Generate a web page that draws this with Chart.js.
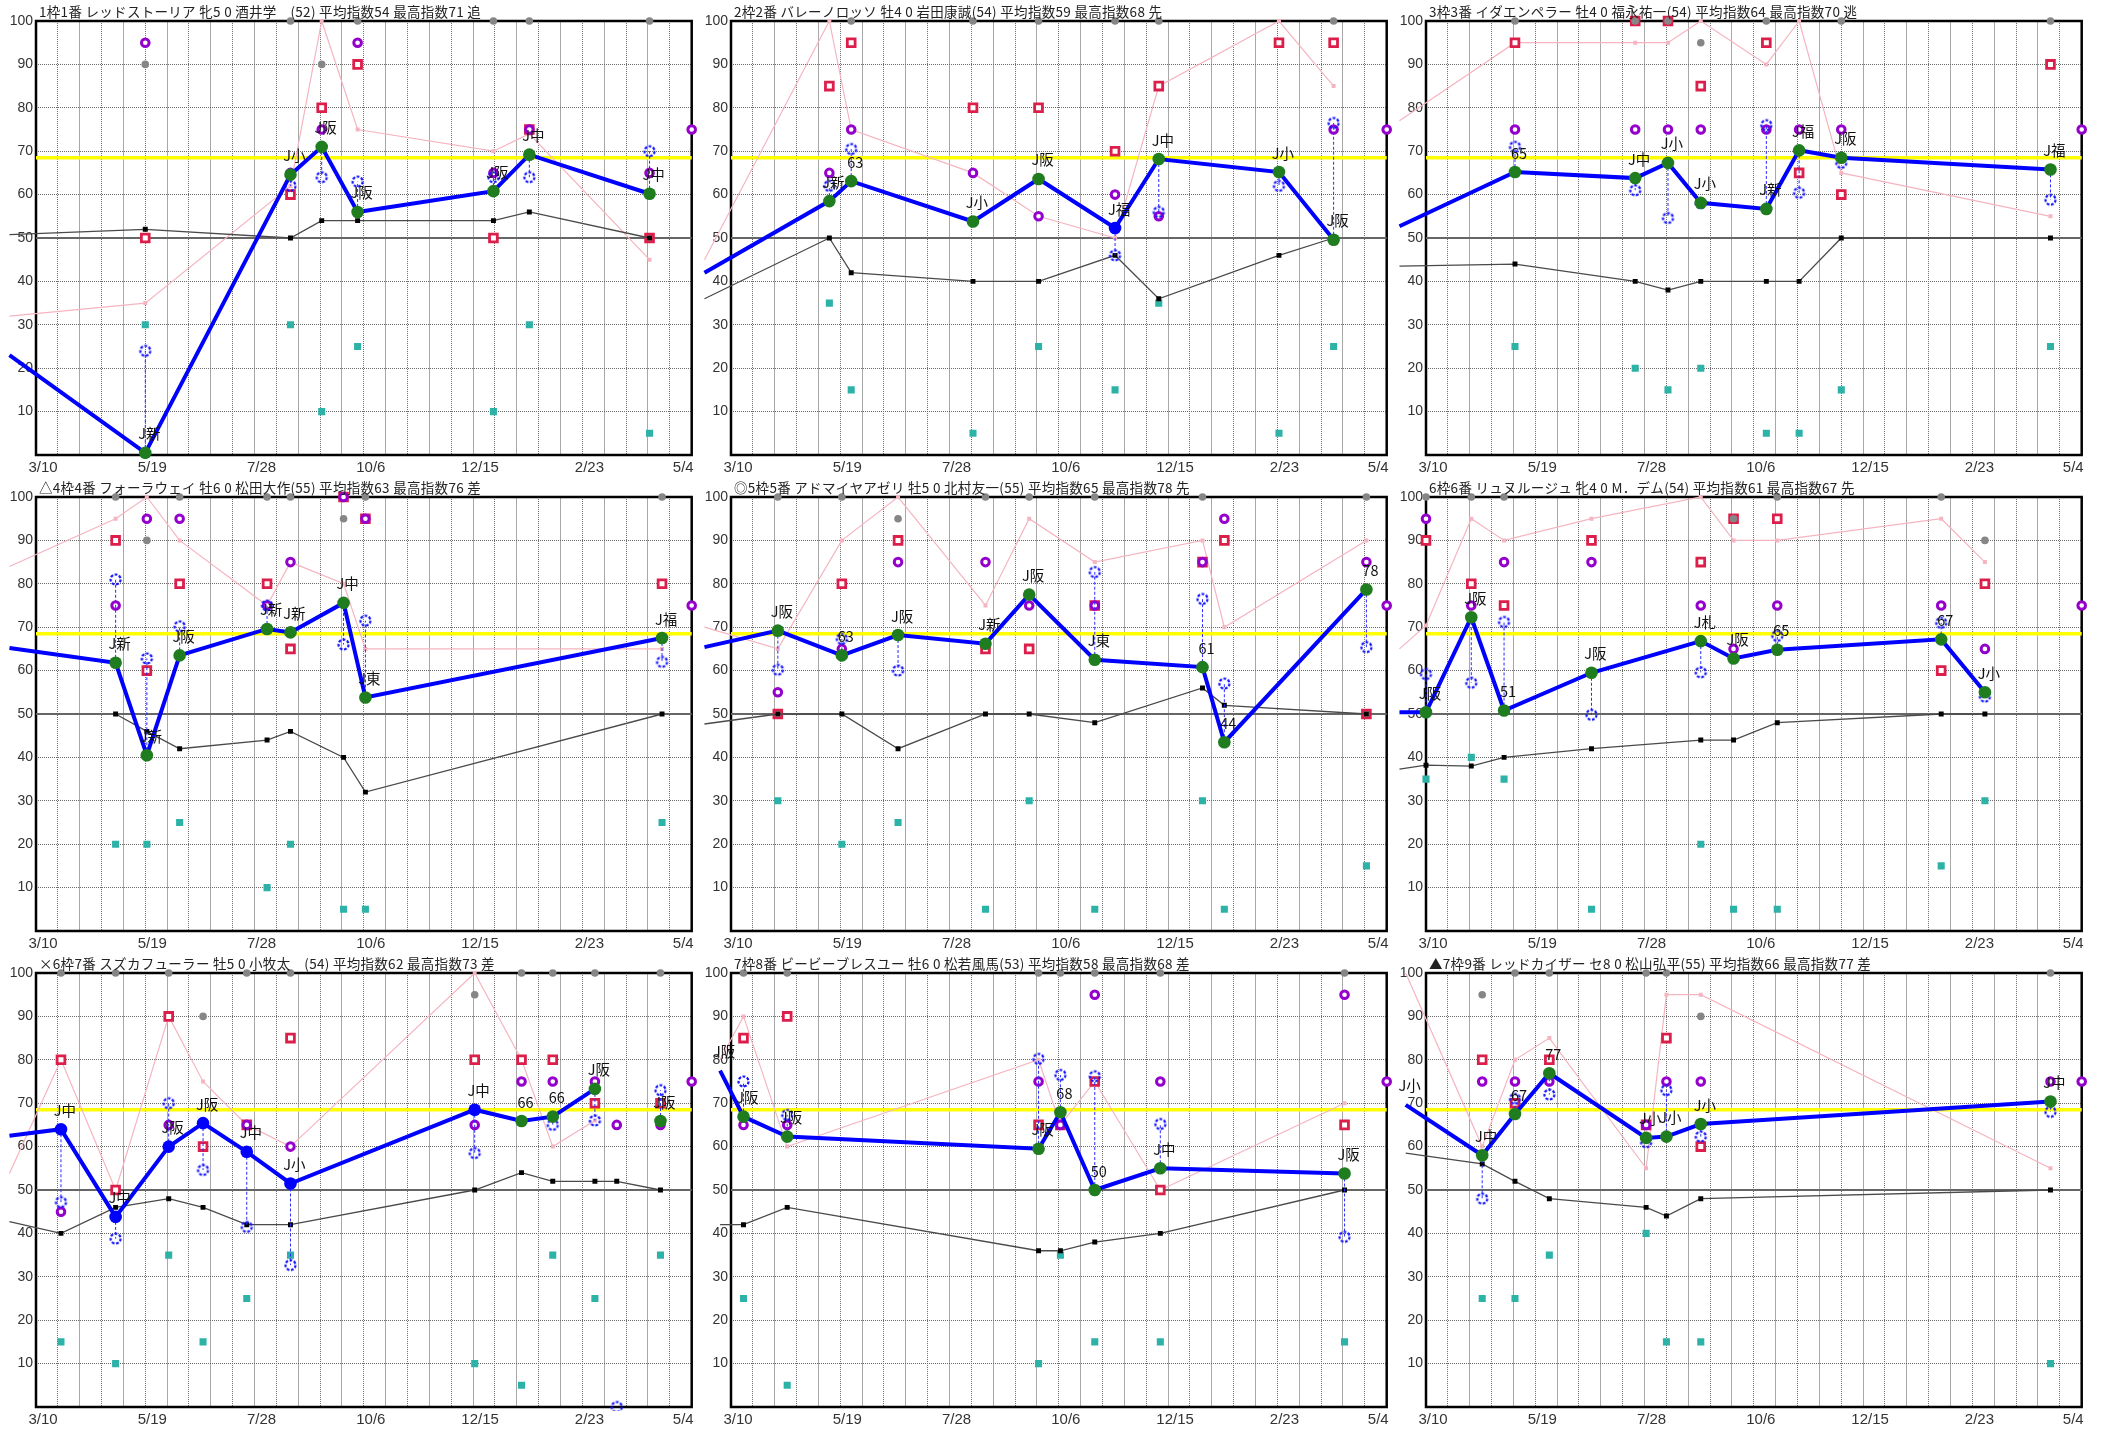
<!DOCTYPE html>
<html><head><meta charset="utf-8">
<script src="https://cdn.jsdelivr.net/npm/chart.js@4/dist/chart.umd.min.js"></script>
<style>
html,body{margin:0;padding:0;background:#fff;}
#wrap{position:relative;width:2103px;height:1430px;background:#fff;overflow:hidden;}
canvas{position:absolute;}
</style></head><body><div id="wrap"></div>
<script>
// ---- axis / reference values ----
const xTickDays = [0, 70, 140, 210, 280, 350, 420];
const xTickLabels = ['3/10', '5/19', '7/28', '10/6', '12/15', '2/23', '5/4'];
const yTicks = [10, 20, 30, 40, 50, 60, 70, 80, 90, 100];
const baseLevel = 50;
const avgLevel = 68.5;
const nextDay = 420;
const nextValue = 75;

// ---- panel 1 ----
const title1 = '1枠1番 レッドストーリア 牝5 0 酒井学　(52) 平均指数54 最高指数71 追';
const d1 = [-17, 70, 163, 183, 206, 293, 316, 393];
const m1 = [23, 0.5, 64.6, 71, 56, 60.8, 69.2, 60.2];
const L1 = ['', 'J新', 'J小', 'J阪', 'J阪', 'J阪', 'J中', 'J中'];
const k1 = [50.8, 52, 50, 54, 54, 54, 56, 50];
const p1 = [32, 35, 62, 100, 75, 70, 74, 45];
const r1 = [null, 50, 60, 80, 90, 50, 75, 50];
const u1 = [null, 95, 65, 75, 95, 65, 75, 65];
const c1 = [null, 30, 30, 10, 25, 10, 30, 5];
const g1 = [null, 90, 100, 90, 100, 100, 100, 100];
const b1 = [null, 24, 62, 64, 63, 64, 64, 70];
const blue1 = [];

// ---- panel 2 ----
const title2 = '2枠2番 バレーノロッソ 牡4 0 岩田康誠(54) 平均指数59 最高指数68 先';
const d2 = [-17, 63, 77, 155, 197, 246, 274, 351, 386];
const m2 = [42, 58.5, 63.1, 53.8, 63.6, 52.3, 68.2, 65.2, 49.6];
const L2 = ['', 'J新', '63', 'J小', 'J阪', 'J福', 'J中', 'J小', 'J阪'];
const k2 = [36, 50, 42, 40, 40, 46, 36, 46, 50];
const p2 = [45, 100, 75, 65, 55, 50, 85, 100, 85];
const r2 = [null, 85, 95, 80, 80, 70, 85, 95, 95];
const u2 = [null, 65, 75, 65, 55, 60, 55, null, 75];
const c2 = [null, 35, 15, 5, 25, 15, 35, 5, 25];
const g2 = [null, null, 100, 100, 100, 100, 100, null, 100];
const b2 = [null, 62, 70.5, null, null, 46, 56, 62, 76.5];
const blue2 = [5];

// ---- panel 3 ----
const title3 = '3枠3番 イダエンペラー 牡4 0 福永祐一(54) 平均指数64 最高指数70 逃';
const d3 = [-17, 57, 134, 155, 176, 218, 239, 266, 400];
const m3 = [52.7, 65.2, 63.8, 67.3, 58.1, 56.7, 70.2, 68.5, 65.8];
const L3 = ['', '65', 'J中', 'J小', 'J小', 'J新', 'J福', 'J阪', 'J福'];
const k3 = [43.5, 44, 40, 38, 40, 40, 40, 50, 50];
const p3 = [77, 95, 95, 95, 100, 90, 100, 65, 55];
const r3 = [null, 95, 100, 100, 85, 95, 65, 60, 90];
const u3 = [null, 75, 75, 75, 75, 75, 75, 75, null];
const c3 = [null, 25, 20, 15, 20, 5, 5, 15, 25];
const g3 = [null, 100, 100, 100, 95, 100, null, 100, 100];
const b3 = [null, 71, 61, 54.6, 58, 76, 60.4, 67.3, 58.8];
const blue3 = [];

// ---- panel 4 ----
const title4 = '△4枠4番 フォーラウェイ 牡6 0 松田大作(55) 平均指数63 最高指数76 差';
const d4 = [-17, 51, 71, 92, 148, 163, 197, 211, 401];
const m4 = [65.2, 61.8, 40.5, 63.5, 69.6, 68.8, 75.6, 53.8, 67.5];
const L4 = ['', 'J新', 'J新', 'J阪', 'J新', 'J新', 'J中', 'J東', 'J福'];
const k4 = [null, 50, 46, 42, 44, 46, 40, 32, 50];
const p4 = [84, 95, 100, 90, 75, 85, 80, 65, 65];
const r4 = [null, 90, 60, 80, 80, 65, 100, 95, 80];
const u4 = [null, 75, 95, 95, 75, 85, 100, 95, null];
const c4 = [null, 20, 20, 25, 10, 20, 5, 5, 25];
const g4 = [null, 100, 90, 100, 100, 100, 95, 100, 100];
const b4 = [null, 81, 62.8, 70.2, 75, null, 66, 71.5, 62];
const blue4 = [];

// ---- panel 5 ----
const title5 = '◎5枠5番 アドマイヤアゼリ 牡5 0 北村友一(55) 平均指数65 最高指数78 先';
const d5 = [-17, 30, 71, 107, 163, 191, 233, 302, 316, 407];
const m5 = [65.4, 69.2, 63.5, 68.2, 66.2, 77.5, 62.5, 60.8, 43.5, 78.7];
const L5 = ['', 'J阪', '63', 'J阪', 'J新', 'J阪', 'J東', '61', '44', '78'];
const k5 = [47.7, 50, 50, 42, 50, 50, 48, 56, 52, 50];
const p5 = [70, 65, 90, 100, 75, 95, 85, 90, 70, 90];
const r5 = [null, 50, 80, 90, 65, 65, 75, 85, 90, 50];
const u5 = [null, 55, 65, 85, 85, 75, 75, 85, 95, 85];
const c5 = [null, 30, 20, 25, 5, 30, 5, 30, 5, 15];
const g5 = [null, 100, 100, 95, 100, 100, 100, 100, null, 100];
const b5 = [null, 60.2, 67.3, 60, null, null, 82.7, 76.5, 57, 65.4];
const blue5 = [];

// ---- panel 6 ----
const title6 = '6枠6番 リュヌルージュ 牝4 0 M．デム(54) 平均指数61 最高指数67 先';
const d6 = [-17, 0, 29, 50, 106, 176, 197, 225, 330, 358];
const m6 = [50.4, 50.4, 72.3, 50.8, 59.5, 66.8, 62.8, 64.8, 67.2, 55];
const L6 = ['', 'J阪', 'J阪', '51', 'J阪', 'J札', 'J阪', '65', '67', 'J小'];
const k6 = [37.3, 38.2, 38, 40, 42, 44, 44, 48, 50, 50];
const p6 = [65, 70.4, 95, 90, 95, 100, 90, 90, 95, 85];
const r6 = [null, 90, 80, 75, 90, 85, 95, 95, 60, 80];
const u6 = [null, 95, 75, 85, 85, 75, 65, 75, 75, 65];
const c6 = [null, 35, 40, 35, 5, 20, 5, 5, 15, 30];
const g6 = [null, 100, 100, 100, null, null, 95, 100, 100, 90];
const b6 = [null, 59.2, 57.2, 71.2, 49.8, 59.6, null, 68, 71, 54];
const blue6 = [];

// ---- panel 7 ----
const title7 = '×6枠7番 スズカフューラー 牡5 0 小牧太　(54) 平均指数62 最高指数73 差';
const d7 = [-17, 16, 51, 85, 107, 135, 163, 281, 311, 331, 358, 372, 400];
const m7 = [62.5, 64, 43.8, 60, 65.4, 58.8, 51.5, 68.5, 65.9, 66.9, 73.3, null, 65.9];
const L7 = ['', 'J中', 'J中', 'J阪', 'J阪', 'J中', 'J小', 'J中', '66', '66', 'J阪', '', 'J阪'];
const k7 = [42.7, 40, 46, 48, 46, 42, 42, 50, 54, 52, 52, 52, 50];
const p7 = [53.8, 80, 50, 90, 75, 65, 60, 100, 80, 60, 66, null, null];
const r7 = [null, 80, 50, 90, 60, 65, 85, 80, 80, 80, 70, null, 70];
const u7 = [null, 45, null, 65, null, 65, 60, 65, 75, 75, 75, 65, 65];
const c7 = [null, 15, 10, 35, 15, 25, 35, 10, 5, 35, 25, null, 35];
const g7 = [null, 100, 100, 100, 90, 100, 100, 95, 100, 100, 100, null, 100];
const b7 = [null, 47.2, 38.8, 70, 54.6, 41.5, 32.7, 58.5, null, 65, 66, 0, 73];
const blue7 = [1, 2, 3, 4, 5, 6, 7];

// ---- panel 8 ----
const title8 = '7枠8番 ビービーブレスユー 牡6 0 松若風馬(53) 平均指数58 最高指数68 差';
const d8 = [-17, -7, 8, 36, 197, 211, 233, 275, 393];
const m8 = [64.6, 77.5, 66.9, 62.3, 59.5, 67.9, 50, 55, 53.8];
const L8 = ['', 'J阪', 'J阪', 'J阪', 'J阪', '68', '50', 'J中', 'J阪'];
const k8 = [44, 42, 42, 46, 36, 36, 38, 40, 50];
const p8 = [null, 80, 90, 60, 80, 65, 75, 50, 70];
const r8 = [null, 70, 85, 90, 65, 65, 75, 50, 65];
const u8 = [null, null, 65, 65, 75, 65, 95, 75, 95];
const c8 = [null, 30, 25, 5, 10, 35, 15, 15, 15];
const g8 = [null, null, 100, 100, 100, 100, 100, 100, 100];
const b8 = [null, 69.2, 75, 67.3, 80.2, 76.5, 76.2, 65.2, 39.2];
const blue8 = [];

// ---- panel 9 ----
const title9 = '▲7枠9番 レッドカイザー セ8 0 松山弘平(55) 平均指数66 最高指数77 差';
const d9 = [-17, -13, 36, 57, 79, 141, 154, 176, 400];
const m9 = [67, 69.6, 58, 67.5, 76.9, 62, 62.3, 65.2, 70.4];
const L9 = ['', 'J小', 'J中', '67', '77', 'J小', 'J小', 'J小', 'J中'];
const k9 = [null, 58.5, 56, 52, 48, 46, 44, 48, 50];
const p9 = [87, 100, 60, 80, 85, 55, 95, 95, 55];
const r9 = [null, 95, 80, 70, 80, 65, 85, 60, null];
const u9 = [null, 75, 75, 75, 75, 65, 75, 75, 75];
const c9 = [null, 25, 25, 25, 35, 40, 15, 15, 10];
const g9 = [null, null, 95, 100, 100, 100, 100, 90, 100];
const b9 = [null, null, 48, 71, 72, 61, 73, 62.3, 68];
const blue9 = [];

const panels = [
  {t: title1, d: d1, m: m1, L: L1, k: k1, p: p1, r: r1, u: u1, c: c1, g: g1, b: b1, blue: blue1},
  {t: title2, d: d2, m: m2, L: L2, k: k2, p: p2, r: r2, u: u2, c: c2, g: g2, b: b2, blue: blue2},
  {t: title3, d: d3, m: m3, L: L3, k: k3, p: p3, r: r3, u: u3, c: c3, g: g3, b: b3, blue: blue3},
  {t: title4, d: d4, m: m4, L: L4, k: k4, p: p4, r: r4, u: u4, c: c4, g: g4, b: b4, blue: blue4},
  {t: title5, d: d5, m: m5, L: L5, k: k5, p: p5, r: r5, u: u5, c: c5, g: g5, b: b5, blue: blue5},
  {t: title6, d: d6, m: m6, L: L6, k: k6, p: p6, r: r6, u: u6, c: c6, g: g6, b: b6, blue: blue6},
  {t: title7, d: d7, m: m7, L: L7, k: k7, p: p7, r: r7, u: u7, c: c7, g: g7, b: b7, blue: blue7},
  {t: title8, d: d8, m: m8, L: L8, k: k8, p: p8, r: r8, u: u8, c: c8, g: g8, b: b8, blue: blue8},
  {t: title9, d: d9, m: m9, L: L9, k: k9, p: p9, r: r9, u: u9, c: c9, g: g9, b: b9, blue: blue9}
];

// ---- marker styles ----
const dashedCircle = (() => {
  const c = document.createElement('canvas');
  c.width = 15; c.height = 15;
  const g = c.getContext('2d');
  g.setLineDash([2.8, 1.6]);
  g.lineWidth = 2.2;
  g.strokeStyle = '#1414ff';
  g.beginPath(); g.arc(7.5, 7.5, 5, 0, Math.PI * 2); g.stroke();
  return c;
})();

const wrap = document.getElementById('wrap');
const CLIP = {left: 28, top: 12, right: 8, bottom: 4};
const hidePrior = (r) => (ctx) => (ctx.raw && ctx.raw.x <= -15) ? 0 : r;

function buildChart(P, idx) {
  const col = idx % 3, row = Math.floor(idx / 3);
  const cv = document.createElement('canvas');
  cv.width = 700; cv.height = 476;
  cv.style.left = (col * 695) + 'px';
  cv.style.top = (row * 476) + 'px';
  cv.style.width = '700px'; cv.style.height = '476px';
  wrap.appendChild(cv);

  const at = (arr) => P.d.map((x, i) => ({x: x, y: arr[i]})).filter(q => q.y !== null && q.y !== undefined);
  const conn = [];
  P.d.forEach((x, i) => {
    if (P.m[i] != null && P.b[i] != null) {
      conn.push({x: x, y: P.m[i]}, {x: x, y: P.b[i]}, {x: x, y: null});
    }
  });
  const mainColors = P.d.map((x, i) => P.blue.includes(i) ? '#0000ff' : '#1f7d1f');

  const overlay = {
    id: 'overlay' + idx,
    beforeDatasetsDraw(chart) {
      const {ctx, chartArea: a} = chart;
      ctx.save();
      ctx.strokeStyle = '#000';
      ctx.lineWidth = 2.5;
      ctx.strokeRect(a.left, a.top, a.right - a.left, a.bottom - a.top);
      ctx.restore();
    },
    afterDatasetsDraw(chart) {
      const {ctx} = chart;
      const xs = chart.scales.x, ys = chart.scales.y;
      ctx.save();
      ctx.font = '14.5px "Noto Sans CJK JP"';
      ctx.fillStyle = '#111';
      ctx.textAlign = 'center';
      ctx.textBaseline = 'middle';
      P.L.forEach((lab, i) => {
        if (!lab || P.m[i] == null) return;
        const px = xs.getPixelForValue(P.d[i]);
        const py = ys.getPixelForValue(P.m[i]);
        ctx.fillText(lab, px + 4, py - 19);
      });
      ctx.restore();
    },
    afterDraw(chart) {
      const {ctx, chartArea: a} = chart;
      const xs = chart.scales.x;
      ctx.save();
      ctx.font = '15px "Liberation Sans"';
      ctx.fillStyle = '#333';
      ctx.textBaseline = 'middle';
      ctx.textAlign = 'center';
      xTickDays.forEach((dv, i) => {
        const w = ctx.measureText(xTickLabels[i]).width;
        let cx = xs.getPixelForValue(dv) + 7;
        if (cx + w / 2 > a.right + 2) cx = a.right + 2 - w / 2;
        ctx.fillText(xTickLabels[i], cx, a.bottom + 13);
      });
      ctx.font = '13.5px "Noto Sans CJK JP"';
      try { ctx.letterSpacing = '0.3px'; } catch (e) {}
      ctx.fillStyle = '#222';
      ctx.textAlign = 'left';
      ctx.fillText(P.t, 39, 12);
      ctx.restore();
    }
  };

  const datasets = [
    {label: 'base', data: [{x: 0, y: baseLevel}, {x: 420, y: baseLevel}], showLine: true,
     borderColor: '#666666', borderWidth: 2.2, pointRadius: 0, order: 30},
    {label: 'avg', data: [{x: 0, y: avgLevel}, {x: 420, y: avgLevel}], showLine: true,
     borderColor: '#ffff00', borderWidth: 3.5, pointRadius: 0, order: 29},
    {label: 'pink', data: at(P.p), showLine: true, borderColor: '#f5b5c0', borderWidth: 1.2,
     pointStyle: 'rect', pointRadius: hidePrior(2.8), pointBackgroundColor: '#f5b5c0', pointBorderWidth: 0, order: 28},
    {label: 'teal', data: at(P.c), pointStyle: 'rect', pointRadius: 5,
     pointBackgroundColor: '#2db2a8', pointBorderWidth: 0, order: 27},
    {label: 'red', data: at(P.r), pointStyle: 'rect', pointRadius: 5.5,
     pointBackgroundColor: '#ffffff', pointBorderColor: '#dc1e4b', pointBorderWidth: 2.8, order: 26},
    {label: 'purple', data: at(P.u).concat([{x: nextDay, y: nextValue}]), pointStyle: 'circle', pointRadius: 3.8,
     pointBackgroundColor: '#ffffff', pointBorderColor: '#9400cc', pointBorderWidth: 3, order: 25},
    {label: 'gray', data: at(P.g), pointStyle: 'circle', pointRadius: 3.8,
     pointBackgroundColor: '#868686', pointBorderWidth: 0, order: 24},
    {label: 'black', data: at(P.k), showLine: true, borderColor: '#4a4a4a', borderWidth: 1.3,
     pointStyle: 'rect', pointRadius: hidePrior(3.5), pointBackgroundColor: '#000000', pointBorderWidth: 0, order: 23},
    {label: 'conn', data: conn, showLine: true, spanGaps: false, borderColor: '#2a2aff', borderWidth: 1,
     borderDash: [3, 2], pointRadius: 0, order: 22},
    {label: 'bcircle', data: at(P.b), pointStyle: dashedCircle, pointRadius: 5, order: 21},
    {label: 'main', data: P.d.map((x, i) => ({x: x, y: P.m[i]})), showLine: true, spanGaps: false,
     borderColor: '#0000ff', borderWidth: 4, pointRadius: hidePrior(6.3),
     pointBackgroundColor: mainColors, pointBorderWidth: 0, order: 20}
  ];
  datasets.forEach(ds => { ds.clip = CLIP; ds.tension = 0; ds.pointHoverRadius = 0; });

  new Chart(cv, {
    type: 'scatter',
    data: {datasets: datasets},
    options: {
      responsive: false, animation: false, devicePixelRatio: 1, events: [],
      layout: {padding: {left: 0, right: 8, top: 21, bottom: 0}},
      plugins: {legend: {display: false}, tooltip: {enabled: false}},
      scales: {
        x: {
          type: 'linear', min: 0, max: 420,
          afterFit: (s) => { s.height = 21; },
          afterBuildTicks: (s) => {
            const t = [];
            for (let v = 0; v <= 420; v += 14) t.push({value: v});
            s.ticks = t;
          },
          ticks: {display: false},
          grid: {drawTicks: false, lineWidth: 1,
                 color: (c) => (c.index % 2) ? '#707070' : '#a8a8a8'},
          border: {display: false, dash: (c) => (c.index % 2) ? [1, 1] : []}
        },
        y: {
          min: 0, max: 100,
          afterFit: (s) => { s.width = 36; },
          afterBuildTicks: (s) => { s.ticks = [0].concat(yTicks).map(v => ({value: v})); },
          ticks: {padding: 3, color: '#333', font: {family: 'Liberation Sans', size: 14},
                  callback: (v) => v === 0 ? '' : String(v)},
          grid: {drawTicks: false, lineWidth: 1, color: '#6a6a6a'},
          border: {display: false, dash: [1, 1]}
        }
      }
    },
    plugins: [overlay]
  });
}

panels.forEach((P, i) => buildChart(P, i));
</script>
</body></html>
